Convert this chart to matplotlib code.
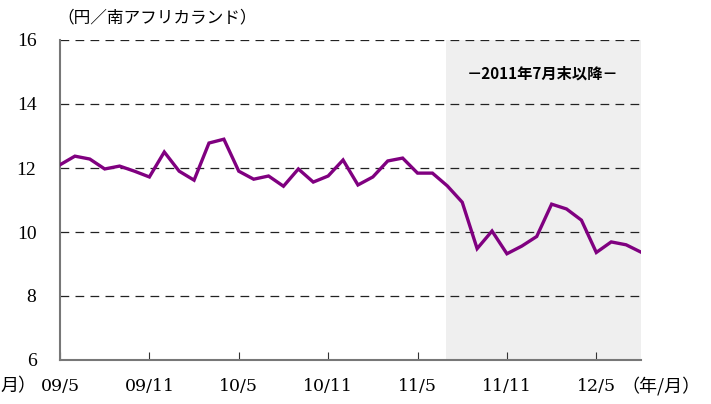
import matplotlib
matplotlib.use("Agg")
import matplotlib.pyplot as plt
import numpy as np

plt.rcParams['font.family'] = ['Noto Sans CJK JP', 'DejaVu Sans']

# JPY per ZAR, monthly, 2009/5 - 2012/8
rate = [12.10, 12.37, 12.28, 11.97, 12.06, 11.90, 11.72, 12.50, 11.90, 11.62,
        12.78, 12.90, 11.90, 11.65, 11.75, 11.43, 11.97, 11.56, 11.75, 12.25,
        11.47, 11.72, 12.22, 12.31, 11.84, 11.84, 11.44, 10.93, 9.48, 10.03,
        9.32, 9.56, 9.86, 10.87, 10.72, 10.37, 9.36, 9.69, 9.60, 9.37]
tick_pos = [0, 6, 12, 18, 24, 30, 36]
tick_labels = ['09/5', '09/11', '10/5', '10/11', '11/5', '11/11', '12/5']
shade_start = 25.9

fig = plt.figure(figsize=(7.11, 4.04), dpi=100)
ax = fig.add_axes([60/711, 44/404, 581/711, 320/404])

x = np.arange(len(rate))
ax.axvspan(shade_start, len(rate) - 1, color='#efefef', zorder=0, lw=0)
for yv in [8, 10, 12, 14, 16]:
    ax.axhline(yv, color='#222222', ls=(0, (7, 5)), lw=0.9, zorder=1)
ax.plot(x, rate, color='#800080', lw=2.4, zorder=3, solid_joinstyle='miter')

ax.set_xlim(0, len(rate) - 1)
ax.set_ylim(6, 16)
ax.set_yticks([6, 8, 10, 12, 14, 16])
ax.set_yticklabels(['6', '8', '10', '12', '14', '16'], family='Liberation Serif', fontsize=14)
ax.set_xticks(tick_pos)
ax.set_xticklabels(tick_labels, family='DejaVu Serif', fontsize=12.5)
ax.tick_params(axis='x', direction='in', length=6, color='#333333', pad=13)
ax.tick_params(axis='y', length=0, pad=17)

for s in ['top', 'right']:
    ax.spines[s].set_visible(False)
ax.spines['left'].set_color('#777777')
ax.spines['bottom'].set_color('#777777')
ax.spines['left'].set_linewidth(1.5)
ax.spines['bottom'].set_linewidth(1.5)

fig.text(57/711, 1 - 18/404, '（円／南アフリカランド）', fontsize=12, va='center', ha='left')
fig.text(543/711, 1 - 74/404, '－2011年7月末以降－', fontsize=11, fontweight='bold',
         va='center', ha='center')
fig.text(621/711, 1 - 386/404, '（年/月）', fontsize=13, va='center', ha='left')
fig.text(0, 1 - 386/404, '月）', fontsize=13, va='center', ha='left')

fig.savefig('out.png', dpi=100)
